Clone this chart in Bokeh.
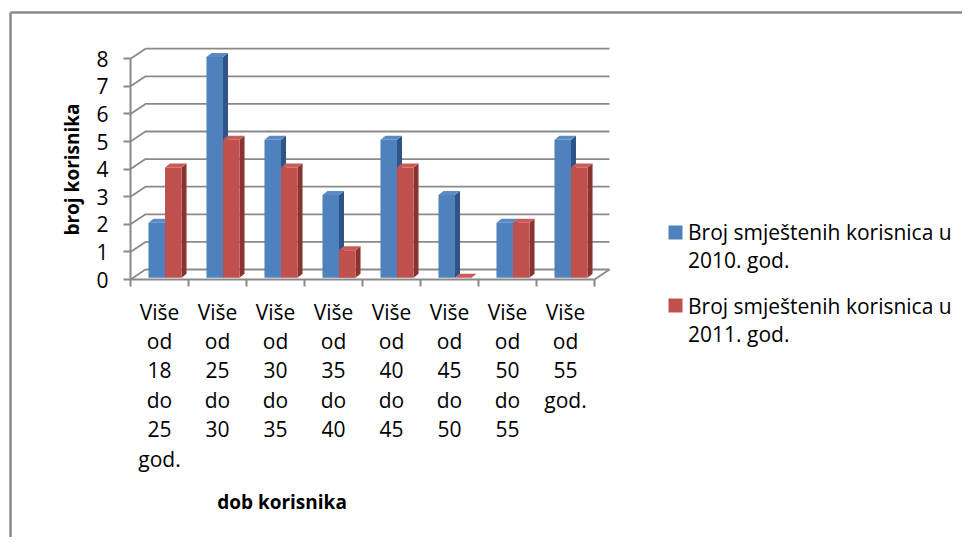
from bokeh.plotting import figure
from bokeh.models import Range1d, FixedTicker, Legend, LegendItem, Label
from bokeh.embed import file_html
from bokeh.resources import INLINE

# ---------------- data ----------------
categories = [
    "Više\nod\n18\ndo\n25\ngod.",
    "Više\nod\n25\ndo\n30",
    "Više\nod\n30\ndo\n35",
    "Više\nod\n35\ndo\n40",
    "Više\nod\n40\ndo\n45",
    "Više\nod\n45\ndo\n50",
    "Više\nod\n50\ndo\n55",
    "Više\nod\n55\ngod.",
]
values_2010 = [2, 8, 5, 3, 5, 3, 2, 5]
values_2011 = [4, 5, 4, 1, 4, 0, 2, 4]
series_names = ["Broj smještenih korisnica u\n2010. god.",
                "Broj smještenih korisnica u\n2011. god."]
y_ticks = [0, 1, 2, 3, 4, 5, 6, 7, 8]
x_title = "dob korisnika"
y_title = "broj korisnika"

# ---------------- style constants ----------------
FONT = "Open Sans"
GRID = "#8a8a8a"
BLUE = ("#4F81BD", "#2F5487", "#5B8BC6")   # front, side, top
RED = ("#C0504D", "#8A3432", "#C95B58")
W, H = 962, 537
X0PX, Y0PX = 130.0, 279.0   # pixel position of the data origin
PX_X = 58.0      # px per category
PX_Y = 27.6      # px per unit
DX, DY = 15 / PX_X, 10 / PX_Y        # wall depth
BDX, BDY = 5 / PX_X, 4 / PX_Y        # bar depth
OFF, BW = 0.31, 0.285                # bar offset / width inside a category
BASE = 0.06


def dx(px):
    return (px - X0PX) / PX_X


def dy(py):
    return (Y0PX - py) / PX_Y


n = len(categories)
p = figure(width=W, height=H,
           x_range=Range1d(dx(0), dx(W)),
           y_range=Range1d(dy(H), dy(0)),
           output_backend="svg", toolbar_location=None,
           min_border_left=0, min_border_right=0,
           min_border_top=0, min_border_bottom=0)
p.grid.visible = False
p.outline_line_color = None
p.background_fill_color = "white"
p.border_fill_color = "white"

# outer chart border (top + left)
p.multi_line([[dx(10), dx(W + 20)], [dx(10), dx(10)]],
             [[dy(12), dy(12)], [dy(12), dy(H + 20)]],
             line_color="#8a8a8a", line_width=2.5)

# walls: gridlines on back wall plus diagonals to the axis
xs, ys = [], []
for v in y_ticks:
    xs.append([0, DX, n + DX])
    ys.append([v, v + DY, v + DY])
xs.append([n, n + DX])
ys.append([0, DY])
p.multi_line(xs, ys, line_color=GRID, line_width=1.8)

# bars
renderers = []
for s, (vals, col) in enumerate(((values_2010, BLUE), (values_2011, RED))):
    x0 = [i + OFF + s * BW for i in range(n)]
    x1 = [a + BW for a in x0]
    top = [v + BASE for v in vals]
    side_x = [[b, b + BDX, b + BDX, b] for b in x1]
    side_y = [[BASE, BASE + BDY, t + BDY, t] for t in top]
    top_x = [[a, a + BDX, b + BDX, b] for a, b in zip(x0, x1)]
    top_y = [[t, t + BDY, t + BDY, t] for t in top]
    p.patches(side_x, side_y, fill_color=col[1], line_color=None)
    p.patches(top_x, top_y, fill_color=col[2], line_color=None)
    r = p.quad(left=x0, right=x1, bottom=BASE, top=top,
               fill_color=col[0], line_color=None)
    renderers.append(r)

# y axis
ya = p.yaxis[0]
ya.fixed_location = 0
ya.ticker = FixedTicker(ticks=y_ticks)
ya.bounds = (0, max(y_ticks))
ya.axis_line_color = GRID
ya.axis_line_width = 2
ya.major_tick_line_color = GRID
ya.major_tick_line_width = 2
ya.major_tick_out = 7
ya.major_tick_in = 0
ya.minor_tick_line_color = None
ya.major_label_text_font = FONT
ya.major_label_text_font_size = "21px"
ya.major_label_text_color = "black"
ya.major_label_standoff = 15

# x axis
xa = p.xaxis[0]
xa.fixed_location = 0
centers = [i + 0.5 for i in range(n)]
xa.ticker = FixedTicker(ticks=centers, minor_ticks=list(range(n + 1)))
xa.major_label_overrides = {c: lab for c, lab in zip(centers, categories)}
xa.bounds = (0, n)
xa.axis_line_color = GRID
xa.axis_line_width = 2
xa.major_tick_line_color = None
xa.major_tick_out = 0
xa.major_tick_in = 0
xa.minor_tick_line_color = GRID
xa.minor_tick_line_width = 2
xa.minor_tick_out = 7
xa.minor_tick_in = 0
xa.major_label_text_font = FONT
xa.major_label_text_font_size = "21px"
xa.major_label_text_color = "black"
xa.major_label_text_line_height = 1.05
xa.major_label_standoff = 11

# axis titles
p.add_layout(Label(x=dx(281.5), y=dy(501), text=x_title,
                   text_font=FONT, text_font_size="19px", text_font_style="bold",
                   text_color="black", text_align="center", text_baseline="middle"))
p.add_layout(Label(x=dx(71), y=dy(169), text=y_title, angle=90, angle_units="deg",
                   text_font=FONT, text_font_size="19px", text_font_style="bold",
                   text_color="black", text_align="center", text_baseline="middle"))

# legend: text via Legend, colour keys aligned with the first text line
legend = Legend(items=[LegendItem(label=series_names[0], renderers=[renderers[0]]),
                       LegendItem(label=series_names[1], renderers=[renderers[1]])],
                location=(688, H - 348), orientation="vertical",
                glyph_width=0, glyph_height=14, label_standoff=0, spacing=18,
                padding=0, margin=0, border_line_color=None,
                background_fill_alpha=0,
                label_text_font=FONT, label_text_font_size="21px",
                label_text_color="black", label_text_line_height=1.3)
p.add_layout(legend, "center")
p.rect(x=[dx(675), dx(675)], y=[dy(232), dy(305)], width=14, height=14,
       width_units="screen", height_units="screen",
       fill_color=[BLUE[0], RED[0]], line_color=None)

open("out.html", "w").write(file_html(p, INLINE))
